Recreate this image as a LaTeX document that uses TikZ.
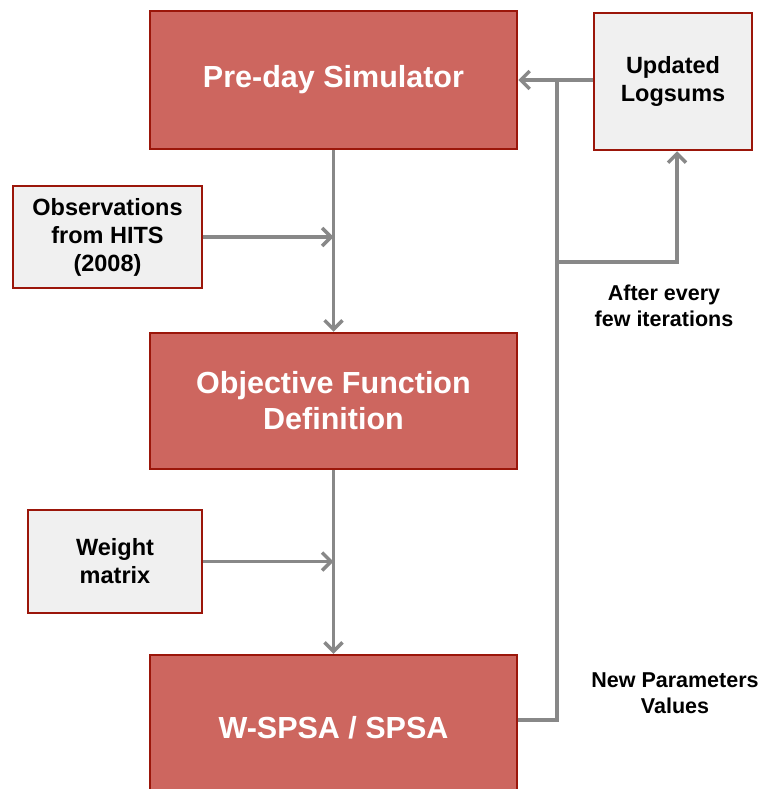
\documentclass[tikz,border=0pt]{standalone}
\usepackage{fontspec}
\setmainfont{Liberation Sans}
\usetikzlibrary{arrows.meta}
\usetikzlibrary{positioning}
\definecolor{mred}{RGB}{205,102,95}
\definecolor{mdark}{RGB}{155,22,10}
\definecolor{mgray}{RGB}{136,136,136}
\definecolor{mlight}{RGB}{240,240,240}
\tikzset{bigbox/.style = {draw=mdark, fill=mred, line width=2.5, minimum width=367,
                          text=white, align=center,
                          font=\fontsize{30.5}{36}\selectfont\bfseries}}
\tikzset{smallbox/.style = {draw=mdark, fill=mlight, line width=2.5, align=center,
                            font=\fontsize{23.5}{28}\selectfont\bfseries}}
\tikzset{note/.style = {align=center, font=\fontsize{21.5}{26}\selectfont\bfseries}}
\tikzset{link/.style = {draw=mgray, line width=3.5}}
\tikzset{flow/.style = {link, -{Straight Barb[length=9, width=18]}}}

\begin{document}
\begin{tikzpicture}[x=1pt, y=-1pt]
      \useasboundingbox (0, 0) rectangle (761, 789);
      \node [bigbox, minimum height=138] (preday) at (333.5, 80) {Pre-day Simulator};
      \node [bigbox, minimum height=136] (objective) at (333.5, 401) {Objective Function\\Definition};
      \node [bigbox, minimum height=146] (spsa) at (333.5, 728) {W-SPSA / SPSA};
      \node [smallbox, minimum width=189, minimum height=102] (hits) at (107.5, 237) {Observations\\from HITS\\(2008)};
      \node [smallbox, minimum width=174, minimum height=103] (weight) at (115, 561.5) {Weight\\matrix};
      \node [smallbox, minimum width=158, minimum height=137] (logsums) at (673, 81.5) {Updated\\Logsums};
      \node [note] (every) at (664, 306) {After every\\few iterations};
      \node [note] (newpar) at (675, 693) {New Parameters\\Values};
      \coordinate (fork) at (557, 262);
      \draw [flow] (preday) -- (objective);
      \draw [flow] (objective) -- (spsa);
      \draw [flow] (hits.east) -- (hits.east -| preday.south);
      \draw [flow] (weight.east) -- (weight.east -| objective.south);
      \draw [flow] ([yshift=8]spsa.east) -| (fork) |- (preday.east);
      \draw [link] (logsums.west |- preday.east) -- (fork |- preday.east);
      \draw [flow] (fork) -| ([xshift=4]logsums.south);
    \end{tikzpicture}
\end{document}
